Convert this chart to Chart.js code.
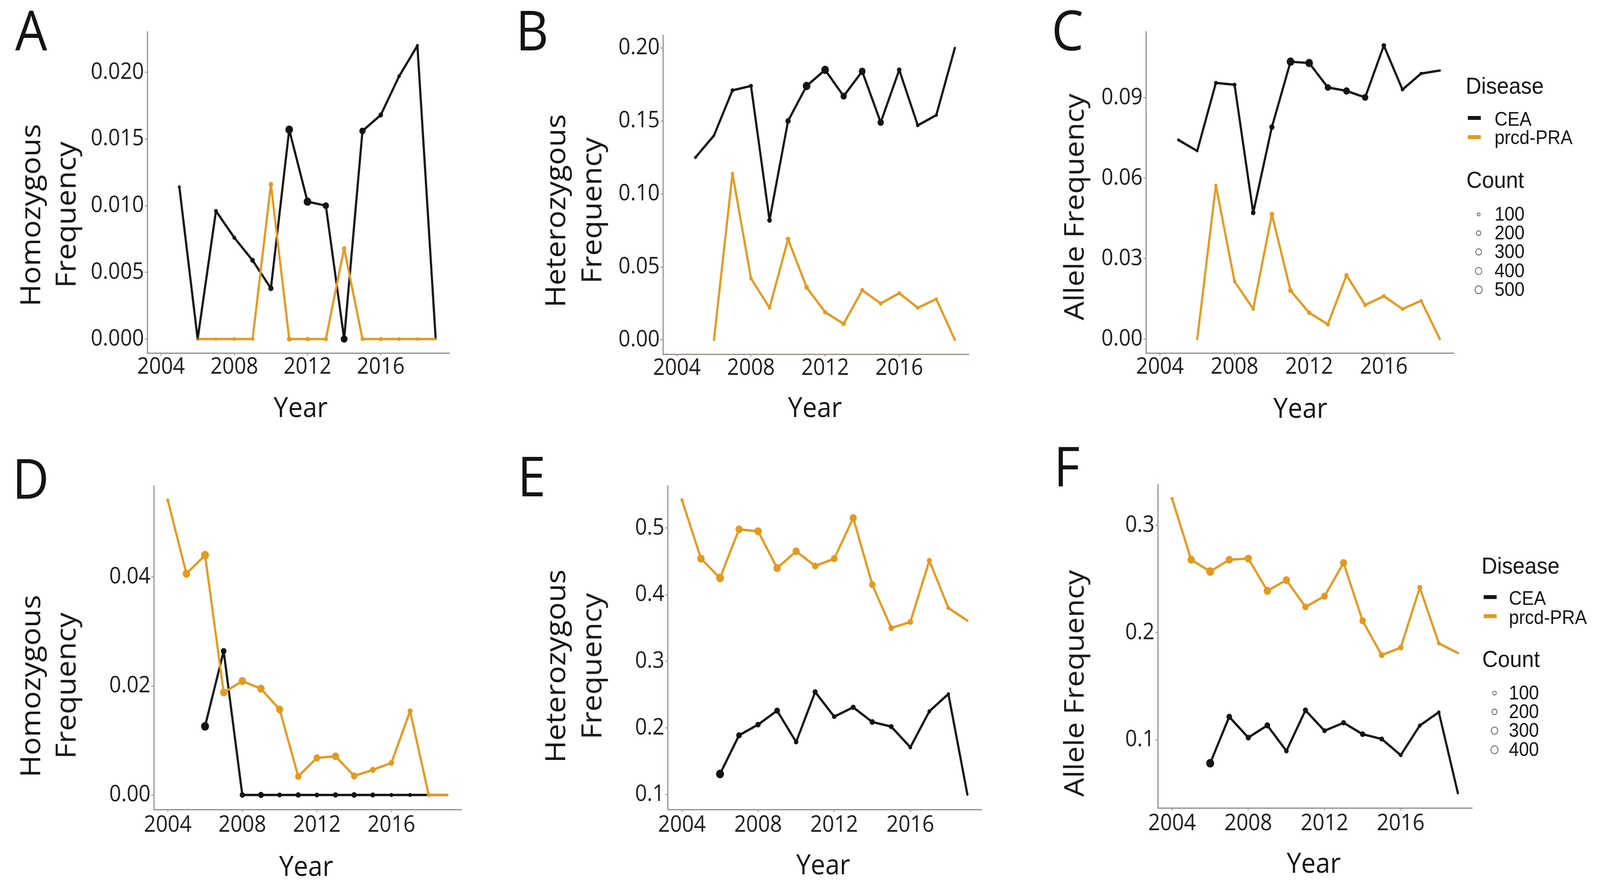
<!DOCTYPE html>
<html>
<head>
<meta charset="utf-8">
<script src="https://cdn.jsdelivr.net/npm/chart.js@4.4.1/dist/chart.umd.min.js"></script>
<style>
  html, body { margin: 0; padding: 0; background: #fff; width: 100%; height: 100%; overflow: hidden; }
  #fig { position: absolute; left: 0; top: 0; width: 4443px; height: 2274px; transform-origin: 0 0; background: #fff; }
  canvas { position: absolute; }
  .t { position: absolute; white-space: nowrap; line-height: 1; color: #141414; font-family: 'Open Sans', sans-serif; }
  .lg { font-family: 'Liberation Sans', Arial, sans-serif; color: #161616; }
  .key { position: absolute; height: 10px; }
  .dot { position: absolute; box-sizing: border-box; border: 2px solid #555; border-radius: 50%; }
</style>
</head>
<body>
<div id="fig"></div>
<script>
// years on the x axis
var years = [2004, 2005, 2006, 2007, 2008, 2009, 2010, 2011, 2012, 2013, 2014, 2015, 2016, 2017, 2018, 2019];
var xTicks = [2004, 2008, 2012, 2016];

// top row (A, B, C)
var homTopCEA = [null, 0.0114, 0, 0.0096, 0.0076, 0.0059, 0.0038, 0.0157, 0.0103, 0.0100, 0, 0.0156, 0.0168, 0.0197, 0.0220, 0];
var homTopPRA = [null, null, 0, 0, 0, 0, 0.0116, 0, 0, 0, 0.0068, 0, 0, 0, 0, 0];
var hetTopCEA = [null, 0.125, 0.140, 0.171, 0.174, 0.082, 0.150, 0.174, 0.185, 0.167, 0.184, 0.149, 0.185, 0.147, 0.154, 0.200];
var hetTopPRA = [null, null, 0, 0.114, 0.042, 0.022, 0.069, 0.036, 0.019, 0.011, 0.034, 0.025, 0.032, 0.022, 0.028, 0];
var allTopCEA = [null, 0.0742, 0.0701, 0.0955, 0.0948, 0.0471, 0.0790, 0.1034, 0.1029, 0.0938, 0.0925, 0.0901, 0.1094, 0.0930, 0.0990, 0.1001];
var allTopPRA = [null, null, 0, 0.0573, 0.0215, 0.0112, 0.0465, 0.0181, 0.0098, 0.0055, 0.0238, 0.0127, 0.0160, 0.0112, 0.0143, 0];
var cntTopCEA = [null, 50, 30, 100, 100, 150, 200, 450, 450, 300, 350, 300, 150, 80, 60, 5];
var cntTopPRA = [null, null, 5, 60, 80, 80, 150, 150, 120, 120, 120, 100, 100, 80, 60, 5];

// bottom row (D, E, F)
var homBotCEA = [null, null, 0.0126, 0.0264, 0, 0, 0, 0, 0, 0, 0, 0, 0, 0, 0, 0];
var homBotPRA = [0.0541, 0.0406, 0.0440, 0.0188, 0.0209, 0.0195, 0.0157, 0.0034, 0.0068, 0.0071, 0.0035, 0.0046, 0.0059, 0.0154, 0, 0];
var hetBotCEA = [null, null, 0.131, 0.189, 0.205, 0.226, 0.179, 0.254, 0.217, 0.231, 0.209, 0.202, 0.171, 0.225, 0.251, 0.100];
var hetBotPRA = [0.542, 0.454, 0.425, 0.498, 0.495, 0.440, 0.465, 0.443, 0.454, 0.515, 0.415, 0.350, 0.359, 0.451, 0.380, 0.361];
var allBotCEA = [null, null, 0.0782, 0.1215, 0.1021, 0.1135, 0.0896, 0.1276, 0.1085, 0.1159, 0.1053, 0.1008, 0.0857, 0.1133, 0.1258, 0.0503];
var allBotPRA = [0.325, 0.268, 0.257, 0.268, 0.269, 0.239, 0.249, 0.224, 0.234, 0.265, 0.211, 0.179, 0.186, 0.242, 0.190, 0.181];
var cntBotCEA = [null, null, 400, 200, 170, 200, 120, 160, 120, 150, 170, 130, 80, 80, 60, 5];
var cntBotPRA = [50, 350, 400, 330, 350, 350, 330, 250, 280, 320, 260, 200, 180, 150, 80, 10];

// y tick labels
var homTopTicks = [0, 0.005, 0.010, 0.015, 0.020];
var hetTopTicks = [0, 0.05, 0.10, 0.15, 0.20];
var allTopTicks = [0, 0.03, 0.06, 0.09];
var homBotTicks = [0, 0.02, 0.04];
var hetBotTicks = [0.1, 0.2, 0.3, 0.4, 0.5];
var allBotTicks = [0.1, 0.2, 0.3];

// legends
var diseases = ['CEA', 'prcd-PRA'];
var cntLegendTop = [100, 200, 300, 400, 500];
var cntLegendBot = [100, 200, 300, 400];

var BLACK = '#141414';
var ORANGE = '#E4991F';
var AXIS = '#958b86';
var X_MIN = 2003.25, X_MAX = 2019.75;

var fig = document.getElementById('fig');

// the window can come up narrower than 4443px, so stretch the figure to fill it
function fit() {
    var sx = window.innerWidth / 4443, sy = window.innerHeight / 2274;
    fig.style.transform = 'scale(' + sx + ',' + sy + ')';
}
fit();
window.addEventListener('resize', fit);

function radius(c, k) {
    return c == null ? 0 : Math.sqrt(4 + k * c);
}

function pts(vals) {
    return years.map(function (yr, i) { return { x: yr, y: vals[i] }; });
}

var panels = [
    { L: 409, T: 81, R: 1248, B: 904, ymin: -0.00105, ymax: 0.02305, ticks: homTopTicks, dec: 3, cea: homTopCEA, pra: homTopPRA, cc: cntTopCEA, cp: cntTopPRA, k: 0.24, xpad: 0 },
    { L: 1841, T: 90, R: 2690, B: 907, ymin: -0.0098, ymax: 0.2088, ticks: hetTopTicks, dec: 2, cea: hetTopCEA, pra: hetTopPRA, cc: cntTopCEA, cp: cntTopPRA, k: 0.24, xpad: 0 },
    { L: 3182, T: 81, R: 4037, B: 904, ymin: -0.0052, ymax: 0.1146, ticks: allTopTicks, dec: 2, cea: allTopCEA, pra: allTopPRA, cc: cntTopCEA, cp: cntTopPRA, k: 0.24, xpad: 0 },
    { L: 427, T: 1244, R: 1281, B: 2073, ymin: -0.00267, ymax: 0.05673, ticks: homBotTicks, dec: 2, cea: homBotCEA, pra: homBotPRA, cc: cntBotCEA, cp: cntBotPRA, k: 0.29, xpad: 4 },
    { L: 1854, T: 1244, R: 2726, B: 2073, ymin: 0.0777, ymax: 0.5633, ticks: hetBotTicks, dec: 1, cea: hetBotCEA, pra: hetBotPRA, cc: cntBotCEA, cp: cntBotPRA, k: 0.29, xpad: 4 },
    { L: 3215, T: 1241, R: 4088, B: 2069, ymin: 0.0365, ymax: 0.338, ticks: allBotTicks, dec: 1, cea: allBotCEA, pra: allBotPRA, cc: cntBotCEA, cp: cntBotPRA, k: 0.29, xpad: 4 }
];

var YW = 200, XH = 110, PT = 50, PR = 20;

panels.forEach(function (p) {
    var cv = document.createElement('canvas');
    cv.width = p.R - p.L + YW + PR;
    cv.height = p.B - p.T + PT + XH;
    cv.style.left = (p.L - YW) + 'px';
    cv.style.top = (p.T - PT) + 'px';
    fig.appendChild(cv);

    new Chart(cv, {
        type: 'line',
        data: {
            datasets: [
                { data: pts(p.pra), showLine: false, pointRadius: p.cp.map(function (c) { return radius(c, p.k); }), pointBackgroundColor: ORANGE, pointBorderWidth: 0, order: 0, clip: false },
                { data: pts(p.cea), showLine: false, pointRadius: p.cc.map(function (c) { return radius(c, p.k); }), pointBackgroundColor: BLACK, pointBorderWidth: 0, order: 1, clip: false },
                { data: pts(p.pra), borderColor: ORANGE, borderWidth: 6, pointRadius: 0, order: 2, clip: false },
                { data: pts(p.cea), borderColor: BLACK, borderWidth: 6, pointRadius: 0, order: 3, clip: false }
            ]
        },
        options: {
            responsive: false,
            animation: false,
            devicePixelRatio: 1,
            layout: { padding: { top: PT, right: PR, left: 0, bottom: 0 } },
            plugins: { legend: { display: false }, tooltip: { enabled: false } },
            elements: { line: { tension: 0, borderJoinStyle: 'round', borderCapStyle: 'round' } },
            scales: {
                x: {
                    type: 'linear', min: X_MIN, max: X_MAX,
                    afterFit: function (s) { s.height = XH; },
                    afterBuildTicks: function (s) { s.ticks = xTicks.map(function (v) { return { value: v }; }); },
                    ticks: {
                        callback: function (v) { return String(v); },
                        font: { family: 'Open Sans', size: 58, lineHeight: 1 },
                        color: '#1c1c1c', padding: p.xpad, maxRotation: 0, autoSkip: false
                    },
                    grid: { drawOnChartArea: false, tickLength: 7, color: AXIS, lineWidth: 2 },
                    border: { color: AXIS, width: 3 }
                },
                y: {
                    min: p.ymin, max: p.ymax,
                    afterFit: function (s) { s.width = YW; },
                    afterBuildTicks: function (s) { s.ticks = p.ticks.map(function (v) { return { value: v }; }); },
                    ticks: {
                        callback: function (v) { return Number(v).toFixed(p.dec); },
                        font: { family: 'Open Sans', size: 58 },
                        color: '#1c1c1c', padding: 2, autoSkip: false
                    },
                    grid: { drawOnChartArea: false, tickLength: 7, color: AXIS, lineWidth: 2 },
                    border: { color: AXIS, width: 3 }
                }
            }
        }
    });
});

function txt(s, left, top, size, cls) {
    var d = document.createElement('div');
    d.className = 't' + (cls ? ' ' + cls : '');
    d.textContent = s;
    d.style.left = left + 'px';
    d.style.top = top + 'px';
    d.style.fontSize = size + 'px';
    fig.appendChild(d);
    return d;
}
function vtxt(s, cx, cy, size) {
    var d = txt(s, cx, cy, size);
    d.style.transform = 'translate(-50%, -50%) rotate(-90deg)';
    return d;
}
function ctxt(s, cx, top, size) {
    var d = txt(s, cx, top, size);
    d.style.transform = 'translateX(-50%)';
    return d;
}

// panel letters
txt('A', 42, 4, 141); txt('B', 1432, 4, 141); txt('C', 2920, 4, 141);
txt('D', 34, 1152, 141); txt('E', 1437, 1146, 141); txt('F', 2926, 1120, 141);

// y axis titles
vtxt('Homozygous', 82, 551, 77); vtxt('Frequency', 180, 550, 77);
vtxt('Heterozygous', 1540, 540, 77); vtxt('Frequency', 1640, 539, 77);
vtxt('Allele Frequency', 2980, 530, 76);
vtxt('Homozygous', 82, 1757, 77); vtxt('Frequency', 180, 1756, 77);
vtxt('Heterozygous', 1540, 1706, 77); vtxt('Frequency', 1640, 1706, 77);
vtxt('Allele Frequency', 2980, 1750, 76);

// x axis titles
ctxt('Year', 835, 1004, 72); ctxt('Year', 2263, 1004, 72); ctxt('Year', 3611, 1006, 72);
ctxt('Year', 850, 2179, 72); ctxt('Year', 2286, 2175, 72); ctxt('Year', 3648, 2171, 72);

function legend(x0, titleTop, keyTops, labelX, labelTops, countTop, cntVals, cntTops, circX, k) {
    txt('Disease', x0, titleTop, 60, 'lg');
    [BLACK, ORANGE].forEach(function (col, i) {
        var kd = document.createElement('div');
        kd.className = 'key';
        kd.style.left = (x0 + 6) + 'px';
        kd.style.width = '36px';
        kd.style.top = keyTops[i] + 'px';
        kd.style.background = col;
        fig.appendChild(kd);
        txt(diseases[i], labelX, labelTops[i], 50, 'lg');
    });
    txt('Count', x0 + 2, countTop, 60, 'lg');
    cntVals.forEach(function (c, i) {
        txt(String(c), labelX, cntTops[i], 50, 'lg');
        var r = radius(c, k);
        var dd = document.createElement('div');
        dd.className = 'dot';
        dd.style.width = dd.style.height = (2 * r) + 'px';
        dd.style.left = (circX - r) + 'px';
        dd.style.top = (cntTops[i] + 26 - r) + 'px';
        fig.appendChild(dd);
    });
}
legend(4070, 190, [297, 346], 4150, [280, 327], 431, cntLegendTop, [523, 571, 619, 668, 716], 4106, 0.24);
legend(4114, 1419, [1524, 1573], 4190, [1507, 1556], 1658, cntLegendBot, [1749, 1797, 1845, 1894], 4150, 0.29);
</script>
</body>
</html>
